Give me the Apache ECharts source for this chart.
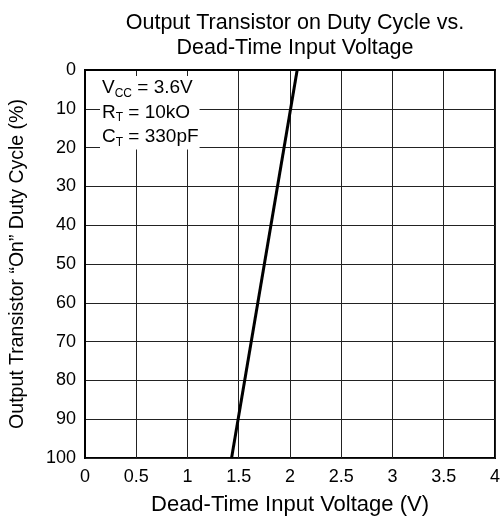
<!DOCTYPE html>
<html>
<head>
<meta charset="utf-8">
<script src="https://cdn.jsdelivr.net/npm/echarts@6/dist/echarts.min.js"></script>
<style>
  html, body { margin: 0; padding: 0; background: #fff; }
  #chart { width: 503px; height: 521px; }
</style>
</head>
<body>
<div id="chart"></div>
<script>
// Dead-time input voltage (V) vs. output "on" duty cycle (%)
const deadTimeVoltage = [1.43, 2.07];
const dutyCycle = [100, 0];

const xTicks = [0, 0.5, 1, 1.5, 2, 2.5, 3, 3.5, 4];
const yTicks = [0, 10, 20, 30, 40, 50, 60, 70, 80, 90, 100];

const titleText = 'Output Transistor on Duty Cycle vs.\nDead-Time Input Voltage';
const xName = 'Dead-Time Input Voltage (V)';
const yName = 'Output Transistor \u201COn\u201D Duty Cycle (%)';

const FONT = '"Liberation Sans", Arial, sans-serif';

const chart = echarts.init(document.getElementById('chart'), null, { renderer: 'canvas' });

const points = deadTimeVoltage.map((v, i) => [v, dutyCycle[i]]);

chart.setOption({
  backgroundColor: '#fff',
  animation: false,
  title: {
    text: titleText,
    left: 290,
    top: 6,
    textAlign: 'center',
    textStyle: { fontFamily: FONT, fontSize: 21.5, fontWeight: 'normal', color: '#000', lineHeight: 24.5 }
  },
  grid: {
    left: 85, right: 4, top: 70, bottom: 63,
    show: true, borderColor: '#000', borderWidth: 2, backgroundColor: 'transparent'
  },
  xAxis: {
    type: 'value',
    min: xTicks[0], max: xTicks[xTicks.length - 1], interval: 0.5,
    name: xName, nameLocation: 'middle', nameGap: 36,
    nameTextStyle: { fontFamily: FONT, fontSize: 22, color: '#000' },
    axisLine: { show: true, lineStyle: { color: '#000', width: 2 } },
    axisTick: { show: false },
    axisLabel: { fontFamily: FONT, fontSize: 18, color: '#000', margin: 10 },
    splitLine: { show: true, lineStyle: { color: '#222', width: 1 } }
  },
  yAxis: {
    type: 'value', inverse: true,
    min: yTicks[0], max: yTicks[yTicks.length - 1], interval: 10,
    name: yName, nameLocation: 'middle', nameGap: 57, nameRotate: 90,
    nameTextStyle: { fontFamily: FONT, fontSize: 19.5, color: '#000' },
    axisLine: { show: true, lineStyle: { color: '#000', width: 2 } },
    axisTick: { show: false },
    axisLabel: { fontFamily: FONT, fontSize: 18, color: '#000', margin: 9 },
    splitLine: { show: true, lineStyle: { color: '#222', width: 1 } }
  },
  series: [{
    type: 'line',
    data: points,
    symbol: 'none',
    lineStyle: { color: '#000', width: 3 },
    z: 3
  }],
  graphic: [{
    type: 'text',
    left: 100,
    top: 76,
    z: 10,
    style: {
      text: '{a|V}{s|CC}{a| = 3.6V}\n{a|R}{s|T}{a| = 10kO}\n{a|C}{s|T}{a| = 330pF}',
      backgroundColor: '#fff',
      padding: [0, 1, 0, 2],
      rich: {
        a: { fontFamily: FONT, fontSize: 19, color: '#000', lineHeight: 24.5 },
        s: { fontFamily: FONT, fontSize: 12, color: '#000', lineHeight: 24.5, padding: [10, 0, 0, 0] }
      }
    }
  }]
});
</script>
</body>
</html>
